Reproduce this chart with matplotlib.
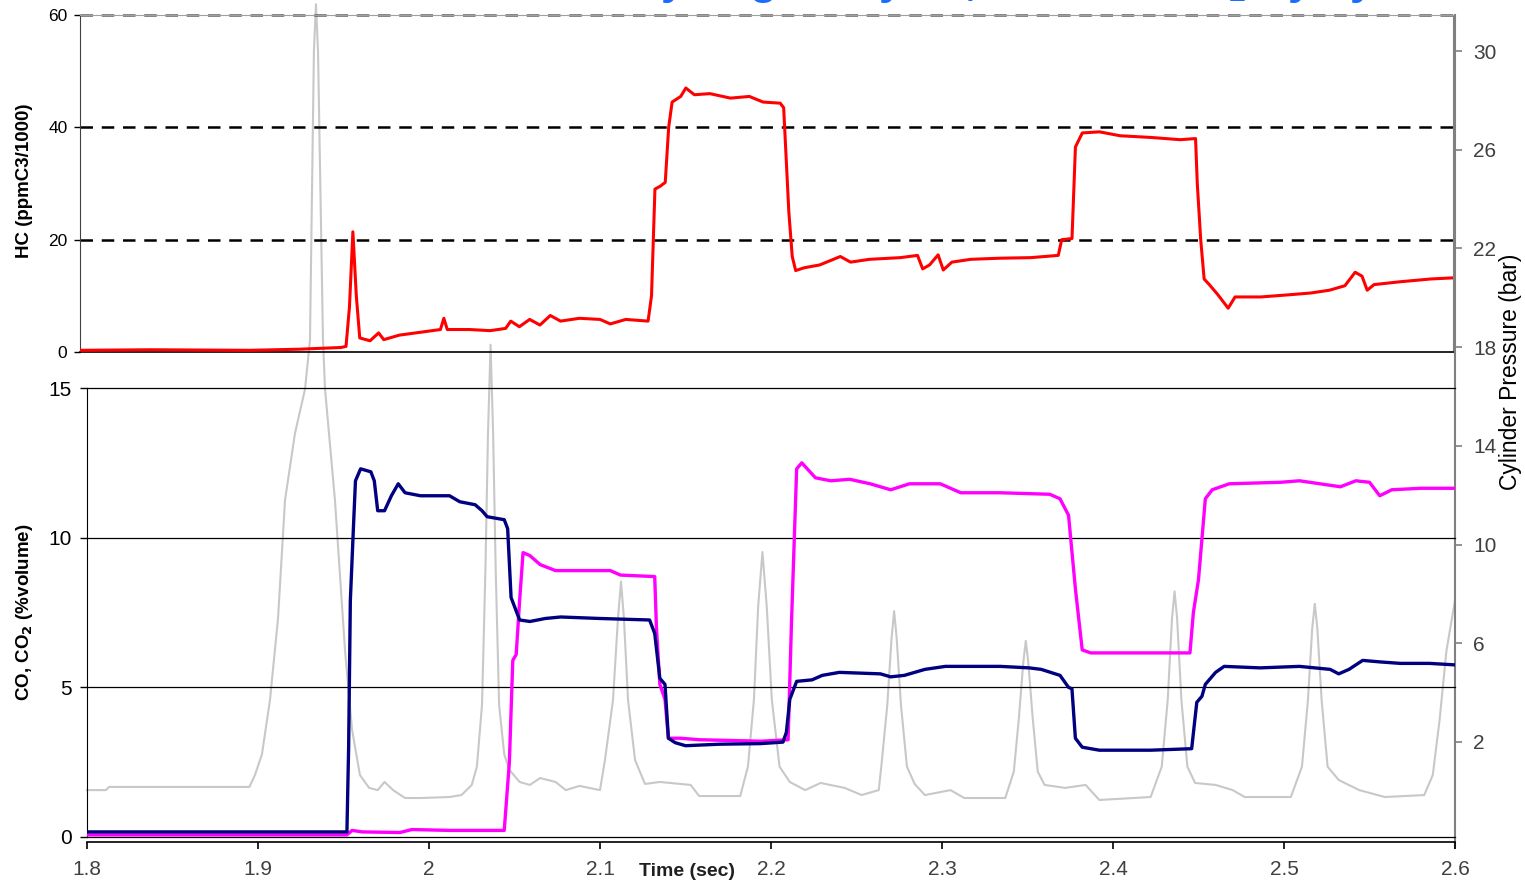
import matplotlib
matplotlib.use("Agg")
import matplotlib.pyplot as plt

# Hydrocarbons, fast FID (ppmC3/1000)
hc_time = [1.800, 1.841, 1.899, 1.928, 1.952, 1.955, 1.957, 1.959, 1.961, 1.963,
           1.969, 1.974, 1.977, 1.986, 1.998, 2.010, 2.012, 2.014, 2.027, 2.039,
           2.048, 2.051, 2.056, 2.062, 2.068, 2.074, 2.080, 2.091, 2.103, 2.109,
           2.118, 2.131, 2.133, 2.135, 2.138, 2.141, 2.143, 2.145, 2.150, 2.153,
           2.158, 2.167, 2.179, 2.190, 2.198, 2.208, 2.210, 2.213, 2.215, 2.217,
           2.222, 2.231, 2.243, 2.249, 2.260, 2.278, 2.288, 2.291, 2.295, 2.300,
           2.303, 2.308, 2.319, 2.336, 2.354, 2.370, 2.372, 2.378, 2.380, 2.384,
           2.394, 2.406, 2.424, 2.441, 2.450, 2.451, 2.453, 2.455, 2.458, 2.463,
           2.469, 2.473, 2.488, 2.505, 2.517, 2.528, 2.537, 2.543, 2.547, 2.550,
           2.554, 2.569, 2.587, 2.600]
hc_value = [0.3, 0.4, 0.3, 0.5, 0.8, 1.0, 8.0, 21.4, 10.0, 2.5,
            2.0, 3.4, 2.2, 3.0, 3.5, 4.0, 6.0, 4.0, 4.0, 3.8,
            4.2, 5.5, 4.5, 5.8, 4.8, 6.5, 5.5, 6.0, 5.8, 5.0,
            5.8, 5.5, 10.0, 29.0, 29.5, 30.2, 40.0, 44.5, 45.5, 47.0,
            45.8, 46.0, 45.2, 45.5, 44.5, 44.3, 43.5, 25.0, 17.0, 14.5,
            15.0, 15.5, 17.0, 16.0, 16.5, 16.8, 17.2, 14.8, 15.5, 17.3,
            14.6, 16.0, 16.5, 16.7, 16.8, 17.2, 20.0, 20.2, 36.5, 39.0,
            39.2, 38.5, 38.2, 37.8, 38.0, 30.0, 20.0, 13.0, 12.0, 10.2,
            7.8, 9.8, 9.8, 10.2, 10.5, 11.0, 11.8, 14.2, 13.5, 11.0,
            12.0, 12.5, 13.0, 13.2]

# Carbon monoxide, fast NDIR (%volume)
co_time = [1.800, 1.866, 1.952, 1.953, 1.954, 1.956, 1.957, 1.960, 1.966, 1.968,
           1.970, 1.974, 1.978, 1.982, 1.986, 1.995, 2.012, 2.018, 2.027, 2.031,
           2.034, 2.044, 2.046, 2.048, 2.050, 2.053, 2.059, 2.068, 2.077, 2.100,
           2.129, 2.132, 2.135, 2.138, 2.140, 2.144, 2.150, 2.170, 2.194, 2.207,
           2.209, 2.211, 2.215, 2.224, 2.230, 2.240, 2.264, 2.270, 2.278, 2.290,
           2.302, 2.334, 2.351, 2.358, 2.369, 2.374, 2.376, 2.378, 2.382, 2.392,
           2.422, 2.446, 2.449, 2.452, 2.454, 2.460, 2.465, 2.486, 2.509, 2.527,
           2.532, 2.538, 2.546, 2.556, 2.568, 2.585, 2.600]
co_value = [0.17, 0.17, 0.17, 3.0, 7.9, 10.6, 11.9, 12.3, 12.2, 11.9,
            10.9, 10.9, 11.4, 11.8, 11.5, 11.4, 11.4, 11.2, 11.1, 10.9,
            10.7, 10.6, 10.3, 8.0, 7.7, 7.25, 7.2, 7.3, 7.35, 7.3,
            7.25, 6.8, 5.3, 5.1, 3.3, 3.15, 3.05, 3.1, 3.12, 3.17,
            3.5, 4.6, 5.2, 5.25, 5.4, 5.5, 5.45, 5.35, 5.4, 5.6,
            5.7, 5.7, 5.65, 5.6, 5.4, 5.0, 4.95, 3.3, 3.0, 2.9,
            2.9, 2.95, 4.5, 4.7, 5.1, 5.5, 5.7, 5.65, 5.7, 5.6,
            5.45, 5.6, 5.9, 5.85, 5.8, 5.8, 5.75]

# Carbon dioxide, fast NDIR (%volume)
co2_time = [1.800, 1.952, 1.955, 1.961, 1.983, 1.990, 2.012, 2.044, 2.047, 2.049,
            2.051, 2.053, 2.055, 2.059, 2.065, 2.074, 2.106, 2.112, 2.132, 2.133,
            2.135, 2.138, 2.140, 2.147, 2.158, 2.194, 2.210, 2.212, 2.215, 2.218,
            2.226, 2.235, 2.246, 2.258, 2.270, 2.281, 2.299, 2.311, 2.334, 2.363,
            2.369, 2.374, 2.378, 2.382, 2.387, 2.422, 2.445, 2.447, 2.450, 2.454,
            2.458, 2.468, 2.498, 2.509, 2.533, 2.542, 2.550, 2.556, 2.563, 2.580,
            2.600]
co2_value = [0.07, 0.07, 0.22, 0.17, 0.15, 0.25, 0.22, 0.22, 2.5, 5.9,
             6.1, 7.9, 9.5, 9.4, 9.1, 8.9, 8.9, 8.75, 8.7, 7.0,
             5.1, 4.6, 3.3, 3.3, 3.25, 3.2, 3.25, 7.2, 12.3, 12.5,
             12.0, 11.9, 11.95, 11.8, 11.6, 11.8, 11.8, 11.5, 11.5, 11.45,
             11.3, 10.75, 8.3, 6.25, 6.15, 6.15, 6.15, 7.5, 8.6, 11.3,
             11.6, 11.8, 11.85, 11.9, 11.7, 11.9, 11.85, 11.4, 11.6, 11.65,
             11.65]

# Cylinder pressure (bar)
p_time = [1.800, 1.811, 1.813, 1.895, 1.8982, 1.9023, 1.907, 1.9117, 1.9158, 1.9216,
          1.9275, 1.9304, 1.9327, 1.9339, 1.9351, 1.938, 1.9392, 1.945, 1.9509, 1.955,
          1.9596, 1.965, 1.970, 1.974, 1.979, 1.986, 1.995, 2.012, 2.019, 2.025,
          2.028, 2.031, 2.033, 2.0345, 2.036, 2.0375, 2.039, 2.041, 2.044, 2.047,
          2.053, 2.059, 2.065, 2.074, 2.080, 2.088, 2.100,
          2.1029, 2.1076, 2.1105, 2.1123, 2.114, 2.1164, 2.1205, 2.1263,
          2.135, 2.153, 2.158, 2.182,
          2.1865, 2.190, 2.1925, 2.195, 2.1975, 2.2005, 2.205,
          2.211, 2.220, 2.229, 2.243, 2.253, 2.263,
          2.2645, 2.268, 2.2705, 2.272, 2.2735, 2.276, 2.2795,
          2.284, 2.290, 2.305, 2.313, 2.337,
          2.342, 2.345, 2.3475, 2.349, 2.3505, 2.353, 2.356,
          2.360, 2.372, 2.384, 2.392, 2.422,
          2.4285, 2.432, 2.4345, 2.436, 2.4375, 2.440, 2.4435,
          2.448, 2.460, 2.470, 2.477, 2.504,
          2.5105, 2.514, 2.5165, 2.518, 2.5195, 2.522, 2.5255,
          2.532, 2.544, 2.559, 2.582, 2.587, 2.591, 2.595, 2.600]
p_value = [0.05, 0.05, 0.18, 0.18, 0.66, 1.5, 3.7, 7.0, 11.8, 14.5,
           16.3, 18.3, 30.0, 31.9, 30.0, 18.3, 16.3, 11.8, 5.7, 2.5,
           0.66, 0.14, 0.05, 0.38, 0.05, -0.27, -0.27, -0.23, -0.15, 0.26,
           1.0, 3.5, 9.0, 14.5, 18.1, 14.5, 9.0, 3.5, 1.5, 0.87,
           0.38, 0.26, 0.54, 0.38, 0.05, 0.22, 0.05,
           1.27, 3.7, 7.0, 8.5, 7.0, 3.7, 1.27, 0.3,
           0.38, 0.26, -0.19, -0.19,
           1.0, 3.7, 7.5, 9.7, 7.5, 3.7, 1.0,
           0.38, 0.05, 0.34, 0.14, -0.15, 0.05,
           1.0, 3.5, 6.2, 7.3, 6.2, 3.5, 1.0,
           0.3, -0.15, 0.05, -0.27, -0.27,
           0.8, 3.0, 5.2, 6.1, 5.2, 3.0, 0.8,
           0.26, 0.14, 0.26, -0.35, -0.23,
           1.0, 3.7, 7.0, 8.1, 7.0, 3.7, 1.0,
           0.34, 0.26, 0.05, -0.23, -0.23,
           1.0, 3.7, 6.6, 7.6, 6.6, 3.7, 1.0,
           0.46, 0.05, -0.23, -0.15, 0.66, 2.9, 5.7, 7.75]

time_ticks = [1.8, 1.9, 2.0, 2.1, 2.2, 2.3, 2.4, 2.5, 2.6]
time_labels = ["1.8", "1.9", "2", "2.1", "2.2", "2.3", "2.4", "2.5", "2.6"]
hc_ticks = [0, 20, 40, 60]
gas_ticks = [0, 5, 10, 15]
p_ticks = [2, 6, 10, 14, 18, 22, 26, 30]

plt.rcParams["font.family"] = ["Liberation Sans", "DejaVu Sans"]

W, H = 1525, 884
fig = plt.figure(figsize=(W / 100, H / 100), dpi=100)
fig.patch.set_facecolor("white")


def box(x0, y0, x1, y1):
    # pixel box -> figure fraction rect
    return [x0 / W, 1 - y1 / H, (x1 - x0) / W, (y1 - y0) / H]


# Pressure axis spans both panels, drawn first so the gas traces sit on top
ax_p = fig.add_axes(box(87, 15, 1455, 837))
ax_p.plot(p_time, p_value, color="#c8c8c8", lw=1.5, clip_on=False)
ax_p.set_xlim(1.8, 2.6)
ax_p.set_ylim(-1.85, 31.46)
ax_p.patch.set_visible(False)
for s in ["left", "top", "bottom"]:
    ax_p.spines[s].set_visible(False)
ax_p.spines["right"].set_color("#808080")
ax_p.spines["right"].set_linewidth(1.5)
ax_p.spines["right"].set_bounds(-2.3, 31.46)
ax_p.set_xticks([])
ax_p.yaxis.tick_right()
ax_p.set_yticks(p_ticks)
ax_p.tick_params(axis="y", direction="out", length=5, width=1.2, color="#808080",
                 labelcolor="#404040", labelsize=15, pad=8)
fig.text(1510 / W, 1 - 372 / H, "Cylinder Pressure (bar)", rotation=90,
         ha="center", va="center", fontsize=16.5)

# Top panel: HC
ax_hc = fig.add_axes(box(80, 15, 1453, 352))
ax_hc.patch.set_visible(False)
for lvl in [20, 40]:
    ax_hc.axhline(lvl, color="black", lw=1.8, ls=(0, (5, 3.5)), zorder=1)
ax_hc.axhline(60, color="#606060", lw=1.8, ls=(0, (5, 3.5)), zorder=1, clip_on=False)
ax_hc.plot(hc_time, hc_value, color="#ff0000", lw=2.2, zorder=3)
ax_hc.set_xlim(1.8, 2.6)
ax_hc.set_ylim(0, 60)
ax_hc.set_xticks([])
ax_hc.set_yticks(hc_ticks)
ax_hc.tick_params(axis="y", direction="out", length=4, width=1, labelsize=12.5, pad=5)
ax_hc.spines["top"].set_color("#a0a0a0")
ax_hc.spines["right"].set_color("#808080")
ax_hc.spines["left"].set_color("#404040")
ax_hc.spines["bottom"].set_color("black")
ax_hc.spines["bottom"].set_linewidth(1.2)
fig.text(25 / W, 1 - 181 / H, "HC (ppmC3/1000)", rotation=90,
         ha="center", va="center", fontsize=13.5, fontweight="bold")

# Bottom panel: CO and CO2
ax_co = fig.add_axes(box(87, 388, 1455, 837))
ax_co.patch.set_visible(False)
for lvl in [0, 5, 10, 15]:
    ax_co.axhline(lvl, color="black", lw=0.9, zorder=1, clip_on=False)
ax_co.plot(co2_time, co2_value, color="#ff00ff", lw=2.4, zorder=3)
ax_co.plot(co_time, co_value, color="#000080", lw=2.4, zorder=4)
ax_co.set_xlim(1.8, 2.6)
ax_co.set_ylim(0, 15)
ax_co.set_yticks(gas_ticks)
ax_co.set_xticks(time_ticks)
ax_co.set_xticklabels(time_labels)
ax_co.spines["top"].set_visible(False)
ax_co.spines["right"].set_visible(False)
ax_co.spines["bottom"].set_position(("outward", 3.5))
ax_co.spines["bottom"].set_linewidth(1.2)
ax_co.tick_params(axis="y", direction="out", length=5, width=1, labelsize=15, pad=6)
ax_co.tick_params(axis="x", direction="out", length=5, width=1.2, labelsize=15,
                  labelcolor="#404040", pad=8)
fig.text(25 / W, 1 - 612 / H, "CO, CO$_\\mathbf{2}$ (%volume)", rotation=90,
         ha="center", va="center", fontsize=13.5, fontweight="bold")

fig.text(687 / W, 1 - 872 / H, "Time (sec)", ha="center", va="center",
         fontsize=14, fontweight="bold", color="#202020")

# Slide heading, running above the top edge so only its descenders show
fig.text(910 / W, 1 + 6 / H, "Cold start: HC by engine cycle, CO and CO$_2$ by cylinder",
         ha="center", va="baseline", fontsize=32, fontweight="bold", color="#1a6cff")

fig.savefig("out.png", dpi=100)
